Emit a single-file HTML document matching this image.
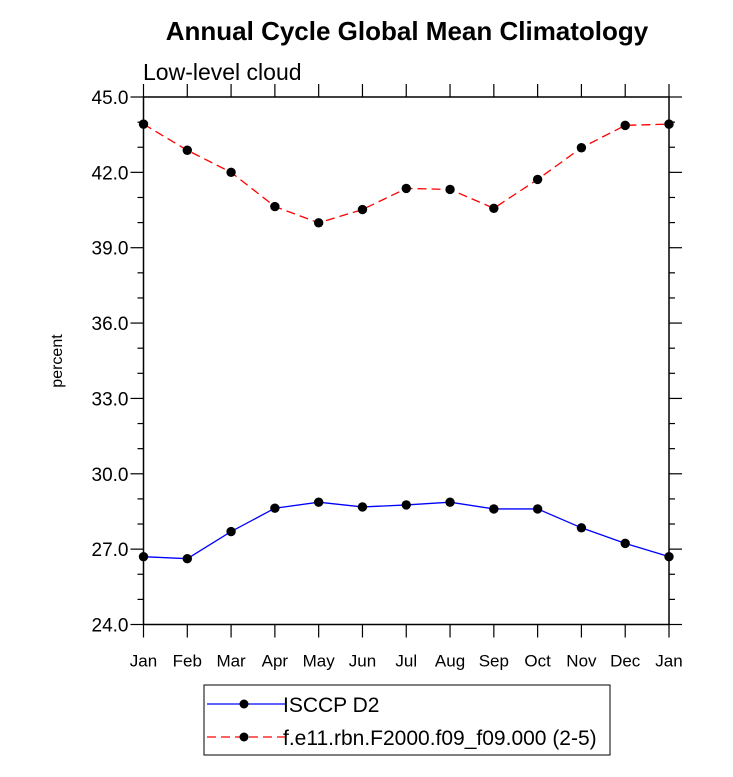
<!DOCTYPE html>
<html><head><meta charset="utf-8"><style>body{margin:0;background:#fff}svg{display:block}</style></head>
<body>
<svg id="c" width="733" height="777" xmlns="http://www.w3.org/2000/svg" font-family="Liberation Sans, sans-serif">
<text x="407" y="40" text-anchor="middle" font-size="26" font-weight="bold">Annual Cycle Global Mean Climatology</text>
<text x="143" y="80" font-size="23">Low-level cloud</text>
<text transform="translate(62,361) rotate(-90)" text-anchor="middle" font-size="16">percent</text>
<g id="axes"></g><g id="marks"></g>
<g>
<rect x="204" y="685" width="406" height="70" fill="#fff" stroke="#000" stroke-width="1"/>
<line x1="207" y1="704" x2="285" y2="704" stroke="#00f" stroke-width="1.3"/>
<circle cx="244" cy="704" r="4.5"/>
<text x="283" y="712" font-size="21">ISCCP D2</text>
<line x1="207" y1="737" x2="285" y2="737" stroke="#f00" stroke-width="1.3" stroke-dasharray="9,5"/>
<circle cx="244" cy="737" r="4.5"/>
<text x="283" y="745" font-size="21">f.e11.rbn.F2000.f09_f09.000 (2-5)</text>
</g>
</svg>
<script>
const months=["Jan","Feb","Mar","Apr","May","Jun","Jul","Aug","Sep","Oct","Nov","Dec","Jan"];
const isccp=[26.7,26.62,27.7,28.63,28.87,28.68,28.76,28.87,28.6,28.6,27.85,27.23,26.7];
const model=[43.92,42.88,42.0,40.64,39.99,40.52,41.36,41.32,40.57,41.72,42.98,43.87,43.92];
const yTicks=["24.0","27.0","30.0","33.0","36.0","39.0","42.0","45.0"];
const NS="http://www.w3.org/2000/svg";
const L=143.5,R=669,T=97,B=624.5,ymin=24,ymax=45;
const x=i=>L+(R-L)*i/(months.length-1);
const y=v=>B-(B-T)*(v-ymin)/(ymax-ymin);
function mk(t,a,p){const e=document.createElementNS(NS,t);for(const k in a)e.setAttribute(k,a[k]);p.appendChild(e);return e;}
const ax=document.getElementById('axes'),mg=document.getElementById('marks');
const fr=mk('rect',{x:L,y:T,width:R-L,height:B-T,fill:'none',stroke:'#000','stroke-width':1.5},ax);


for(let v=ymin;v<=ymax+1e-6;v+=1){const maj=Math.round(v-ymin)%3===0;const len=maj?13:6;const yy=y(v);
mk('line',{x1:L-len,y1:yy,x2:L,y2:yy,stroke:'#000','stroke-width':1.2},ax);
mk('line',{x1:R,y1:yy,x2:R+len,y2:yy,stroke:'#000','stroke-width':1.2},ax);}
yTicks.forEach(s=>{const t=mk('text',{x:L-15,y:y(parseFloat(s))+7,'text-anchor':'end','font-size':19},ax);t.textContent=s;

});
months.forEach((m,i)=>{const xx=x(i);
mk('line',{x1:xx,y1:B,x2:xx,y2:B+13,stroke:'#000','stroke-width':1.2},ax);
mk('line',{x1:xx,y1:T-13,x2:xx,y2:T,stroke:'#000','stroke-width':1.2},ax);
const t=mk('text',{x:xx,y:B+42,'text-anchor':'middle','font-size':17},ax);t.textContent=m;

});
function series(d,col,dash,name){
const pl=mk('polyline',{points:d.map((v,i)=>x(i)+','+y(v)).join(' '),fill:'none',stroke:col,'stroke-width':1.3,'stroke-dasharray':dash},mg);


d.forEach((v,i)=>{const c=mk('circle',{cx:x(i),cy:y(v),r:4.7,fill:'#000'},mg);

});}
series(isccp,'#00f','none','isccp');
series(model,'#f00','9,5','model');
</script>
</body></html>
